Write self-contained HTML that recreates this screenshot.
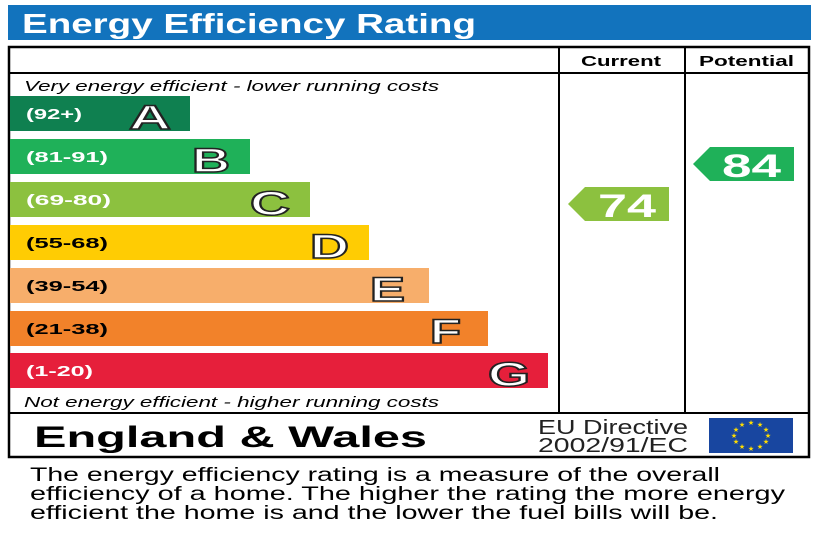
<!DOCTYPE html>
<html><head><style>body{margin:0;background:#fff}svg{display:block}</style></head><body>
<svg width="820" height="547" xmlns="http://www.w3.org/2000/svg" font-family="Liberation Sans, Arial, sans-serif">
<rect x="8" y="5" width="803" height="35" fill="#1273bd"/>
<text x="22" y="33" font-size="28" font-weight="bold" fill="#fff" textLength="454" lengthAdjust="spacingAndGlyphs">Energy Efficiency Rating</text>
<rect x="9" y="47" width="800" height="410" fill="none" stroke="#000" stroke-width="2.5"/>
<line x1="9" y1="73" x2="809" y2="73" stroke="#000" stroke-width="2"/>
<line x1="9" y1="413" x2="809" y2="413" stroke="#000" stroke-width="2"/>
<line x1="559" y1="47" x2="559" y2="413" stroke="#000" stroke-width="2"/>
<line x1="685" y1="47" x2="685" y2="413" stroke="#000" stroke-width="2"/>
<text x="581" y="66" font-size="15" font-weight="bold" textLength="80" lengthAdjust="spacingAndGlyphs">Current</text>
<text x="699" y="66" font-size="15" font-weight="bold" textLength="95" lengthAdjust="spacingAndGlyphs">Potential</text>
<text x="24" y="91" font-size="15" font-style="italic" textLength="415" lengthAdjust="spacingAndGlyphs">Very energy efficient - lower running costs</text>
<text x="24" y="407" font-size="15" font-style="italic" textLength="415" lengthAdjust="spacingAndGlyphs">Not energy efficient - higher running costs</text>
<g font-weight="bold">
<rect x="10" y="96" width="180" height="35" fill="#0f8050"/>
<rect x="10" y="139" width="240" height="35" fill="#1fb159"/>
<rect x="10" y="182" width="300" height="35" fill="#8cc13f"/>
<rect x="10" y="225" width="359" height="35" fill="#ffcc03"/>
<rect x="10" y="268" width="419" height="35" fill="#f7ae6b"/>
<rect x="10" y="311" width="478" height="35" fill="#f2822a"/>
<rect x="10" y="353" width="538" height="35" fill="#e61f3b"/>
<g font-size="15" fill="#fff">
<text x="26" y="119" textLength="56" lengthAdjust="spacingAndGlyphs">(92+)</text>
<text x="26" y="162" textLength="82" lengthAdjust="spacingAndGlyphs">(81-91)</text>
<text x="26" y="205" textLength="85" lengthAdjust="spacingAndGlyphs">(69-80)</text>
<text x="26" y="248" fill="#000" textLength="82" lengthAdjust="spacingAndGlyphs">(55-68)</text>
<text x="26" y="291" fill="#000" textLength="82" lengthAdjust="spacingAndGlyphs">(39-54)</text>
<text x="26" y="334" fill="#000" textLength="82" lengthAdjust="spacingAndGlyphs">(21-38)</text>
<text x="26" y="376" textLength="67" lengthAdjust="spacingAndGlyphs">(1-20)</text>
</g>
<g font-size="34" fill="#fff" stroke="#222" stroke-width="1.5">
<text x="129" y="129" textLength="42" lengthAdjust="spacingAndGlyphs">A</text>
<text x="192" y="172" textLength="38" lengthAdjust="spacingAndGlyphs">B</text>
<text x="250" y="215" textLength="40" lengthAdjust="spacingAndGlyphs">C</text>
<text x="310" y="258" textLength="39" lengthAdjust="spacingAndGlyphs">D</text>
<text x="370" y="301" textLength="35" lengthAdjust="spacingAndGlyphs">E</text>
<text x="430" y="343" textLength="31" lengthAdjust="spacingAndGlyphs">F</text>
<text x="488" y="386" textLength="42" lengthAdjust="spacingAndGlyphs">G</text>
</g>
<polygon points="568,204 585,187 669,187 669,221 585,221" fill="#8cc13f"/>
<text x="598" y="217" font-size="32" fill="#fff" textLength="58" lengthAdjust="spacingAndGlyphs">74</text>
<polygon points="693,164 710,147 794,147 794,181 710,181" fill="#1fb159"/>
<text x="722" y="177" font-size="32" fill="#fff" textLength="59" lengthAdjust="spacingAndGlyphs">84</text>
<text x="34" y="447" font-size="30" textLength="393" lengthAdjust="spacingAndGlyphs">England &amp; Wales</text>
</g>
<text x="538" y="434" font-size="20" fill="#222" textLength="150" lengthAdjust="spacingAndGlyphs">EU Directive</text>
<text x="538" y="452" font-size="20" fill="#222" textLength="150" lengthAdjust="spacingAndGlyphs">2002/91/EC</text>
<rect x="709" y="418" width="84" height="35" fill="#1846a0"/>
<g fill="#ffdd00" font-size="7" text-anchor="middle">
<text x="751" y="425">★</text><text x="760" y="427">★</text><text x="766" y="432">★</text><text x="768" y="438">★</text>
<text x="766" y="444">★</text><text x="760" y="449">★</text><text x="751" y="451">★</text><text x="742" y="449">★</text>
<text x="736" y="444">★</text><text x="734" y="438">★</text><text x="736" y="432">★</text><text x="742" y="427">★</text>
</g>
<g font-size="19" fill="#000">
<text x="30" y="481" textLength="690" lengthAdjust="spacingAndGlyphs">The energy efficiency rating is a measure of the overall</text>
<text x="30" y="500" textLength="755" lengthAdjust="spacingAndGlyphs">efficiency of a home.  The higher the rating the more energy</text>
<text x="30" y="519" textLength="688" lengthAdjust="spacingAndGlyphs">efficient the home is and the lower the fuel bills will be.</text>
</g>
</svg>
</body></html>
